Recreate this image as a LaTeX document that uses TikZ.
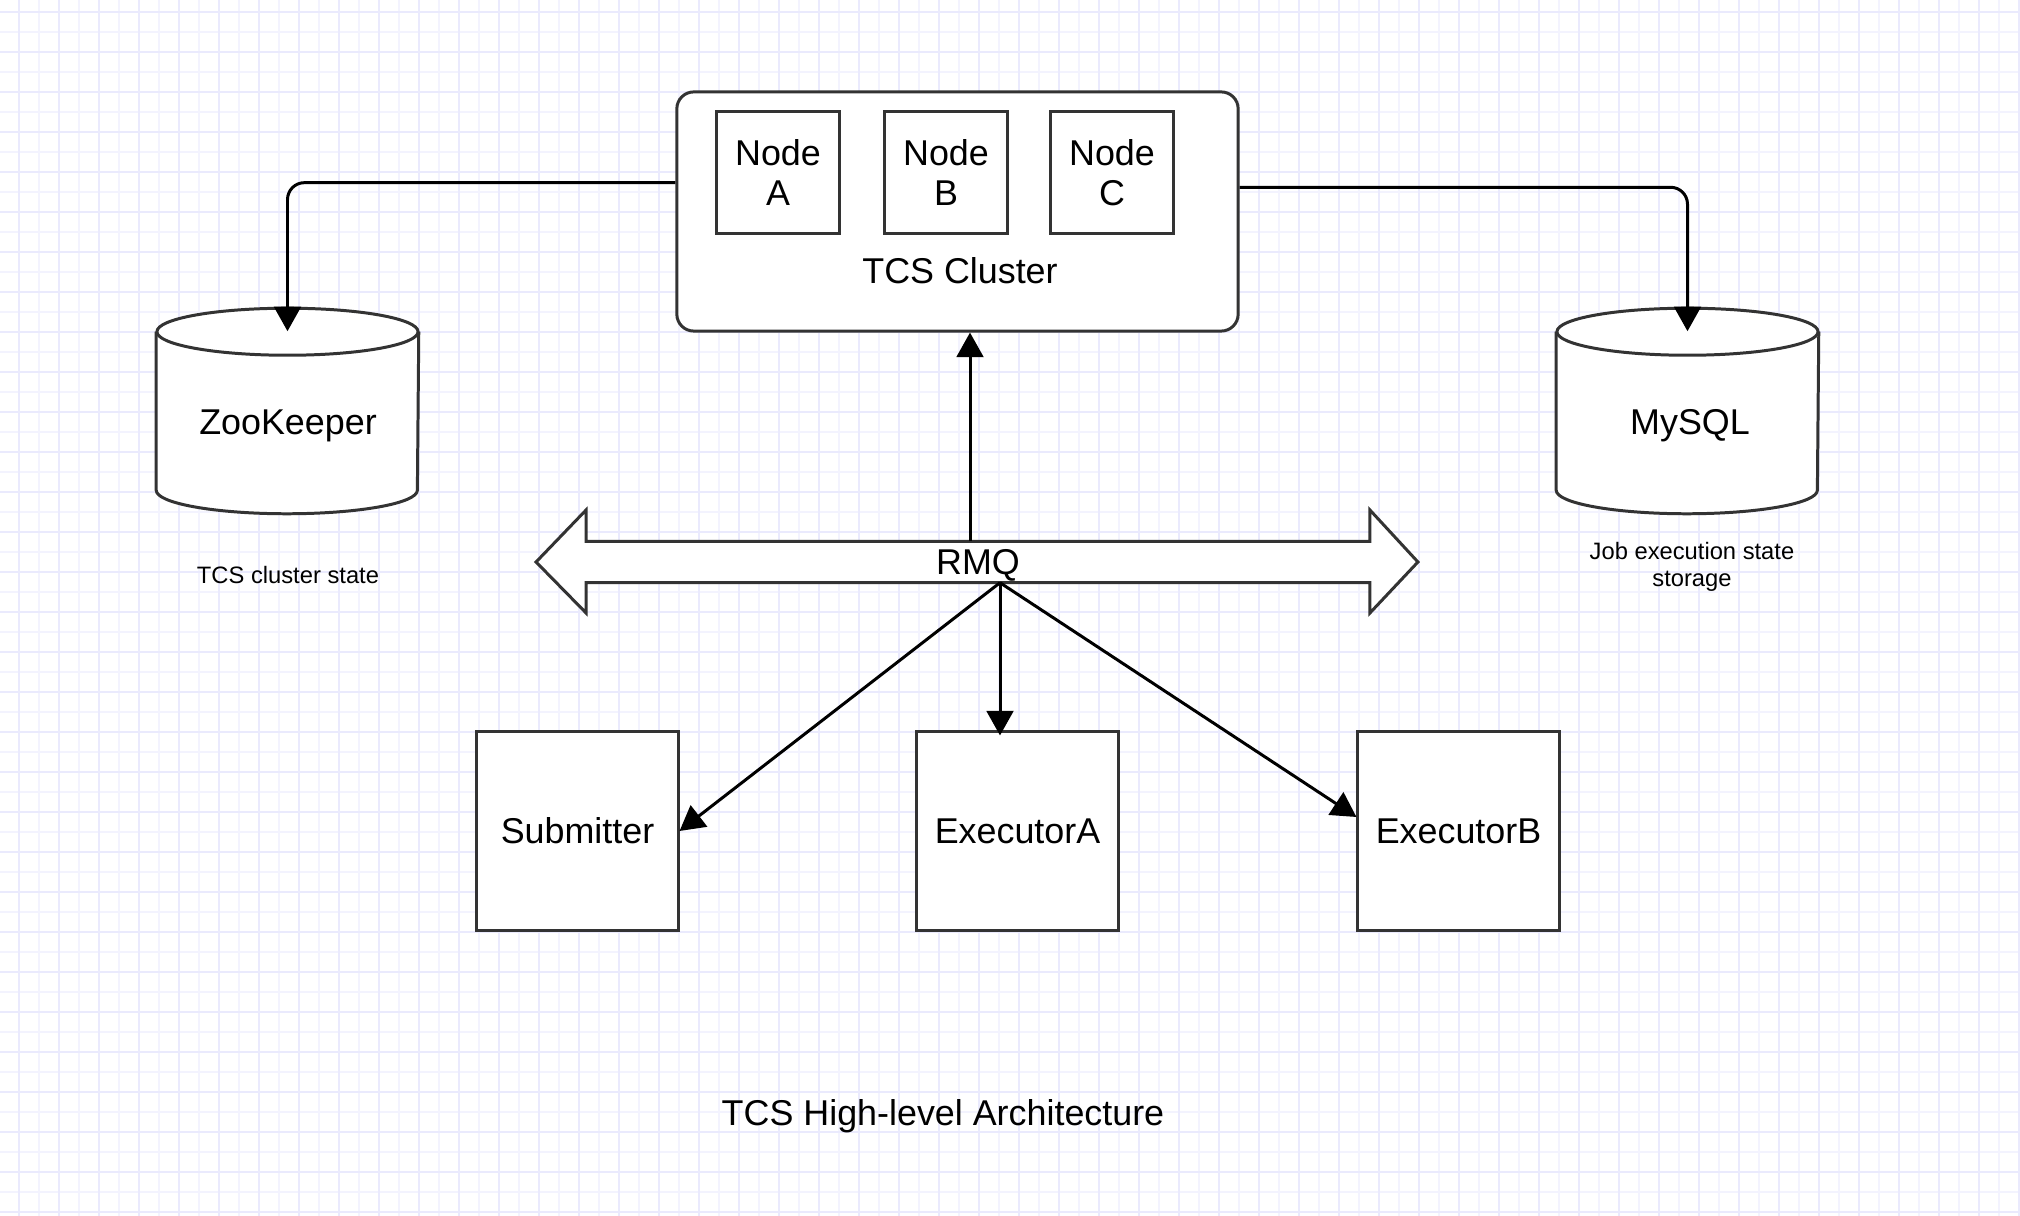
\documentclass[tikz,border=0pt]{standalone}
\usepackage{fontspec}
\setmainfont{Liberation Sans}
\usetikzlibrary{arrows.meta,calc}
\definecolor{boxgray}{HTML}{333333}
\definecolor{gridmajor}{HTML}{EAEAFD}
\definecolor{gridminor}{HTML}{F3F3FE}
\pgfdeclarelayer{gridlayer}
\pgfdeclarelayer{back}
\pgfsetlayers{gridlayer,back,main}
\begin{document}
\begin{tikzpicture}[x=0.01cm,y=-0.01cm,
  box/.style={draw=boxgray,line width=0.85pt,fill=white,inner sep=0pt,align=center,
    font=\fontsize{10.2pt}{11.34pt}\selectfont},
  lbl/.style={inner sep=0pt,text height=7.3pt,text depth=0pt,
    font=\fontsize{10.2pt}{11.34pt}\selectfont},
  small/.style={inner sep=0pt,text height=4.85pt,text depth=0pt,
    font=\fontsize{6.75pt}{7.9pt}\selectfont},
  smallml/.style={inner sep=0pt,align=center,font=\fontsize{6.75pt}{7.75pt}\selectfont},
  conn/.style={draw=black,line width=0.85pt,-{Triangle[length=7pt,width=7.6pt]}},
  shapeline/.style={draw=boxgray,line width=0.85pt,fill=white},
]
\useasboundingbox (0,0) rectangle (2020,1216);
\begin{pgfonlayer}{gridlayer}
  \fill[white] (0,0) rectangle (2020,1216);
  \foreach \x in {39,79,...,2020} \draw[gridminor,line width=0.5pt] (\x,0) -- (\x,1216);
  \foreach \y in {32,72,...,1216} \draw[gridminor,line width=0.5pt] (0,\y) -- (2020,\y);
  \foreach \x in {19,59,...,2020} \draw[gridmajor,line width=0.6pt] (\x,0) -- (\x,1216);
  \foreach \y in {12,52,...,1216} \draw[gridmajor,line width=0.6pt] (0,\y) -- (2020,\y);
\end{pgfonlayer}

% TCS cluster
\node[box,rounded corners=4.8pt,minimum width=5.61cm,minimum height=2.39cm] (cluster) at (957.5,211.5) {};
\node[box,minimum width=1.22cm,minimum height=1.21cm] (na) at (778,172.5) {Node\\A};
\node[box,minimum width=1.22cm,minimum height=1.21cm] (nb) at (946,172.5) {Node\\B};
\node[box,minimum width=1.22cm,minimum height=1.21cm] (nc) at (1112,172.5) {Node\\C};
\node[lbl] (clusterlbl) at (960,271) {TCS Cluster};

% cylinders
\node[inner sep=0pt,minimum width=2.61cm,minimum height=2.04cm] (zk) at (287.5,411) {};
\node[inner sep=0pt,minimum width=2.61cm,minimum height=2.04cm] (my) at (1687.5,411) {};
\begin{pgfonlayer}{back}
  \foreach \c in {zk,my} {
    \path[fill=white] ($(\c.north west)+(0,23.5)$) rectangle ($(\c.south east)+(0,-23.5)$);
    \draw[shapeline] ($(\c.north west)+(0,23.5)$) -- ($(\c.south west)+(0,-23.5)$)
      arc[start angle=180,end angle=360,x radius=1.305cm,y radius=0.235cm]
      -- ($(\c.north east)+(0,23.5)$);
    \draw[shapeline] ($(\c.north)+(0,23.5)$) ellipse[x radius=1.305cm,y radius=0.235cm];
  }
\end{pgfonlayer}
\node[lbl] (zklbl) at (288,422) {ZooKeeper};
\node[lbl] (mylbl) at (1690,422) {MySQL};
\node[small] (zknote) at (288,575) {TCS cluster state};
\node[smallml] (mynote) at (1692,567) {Job execution state\\storage};

% RMQ bus
\node[lbl,minimum width=7.82cm,minimum height=0.40cm] (rmq) at (978,562) {RMQ};
\begin{pgfonlayer}{back}
  \draw[shapeline,line join=miter] ($(rmq.west)+(-50,0)$) -- ($(rmq.west)+(0,-52)$) -- (rmq.north west)
    -- (rmq.north east) -- ($(rmq.east)+(0,-52)$) -- ($(rmq.east)+(48,0)$)
    -- ($(rmq.east)+(0,51)$) -- (rmq.south east) -- (rmq.south west)
    -- ($(rmq.west)+(0,51)$) -- cycle;
\end{pgfonlayer}

% clients
\node[box,minimum width=2.01cm,minimum height=1.98cm] (sub) at (577.5,831) {Submitter};
\node[box,minimum width=2.01cm,minimum height=1.98cm] (exa) at (1017.5,831) {ExecutorA};
\node[box,minimum width=2.01cm,minimum height=1.98cm] (exb) at (1458.5,831) {ExecutorB};

\node[lbl] (title) at (943,1113) {TCS High-level Architecture};

% connectors
\coordinate (clL) at ($(cluster.north west)!0.381!(cluster.south west)$);
\coordinate (clR) at ($(cluster.north east)!0.40!(cluster.south east)$);
\draw[conn,rounded corners=4.8pt] (clL) -| ($(zk.north)+(0,23)$);
\draw[conn,rounded corners=4.8pt] (clR) -| ($(my.north)+(0,23)$);
\coordinate (rmqU) at ($(rmq.north)+(-8,0)$);
\coordinate (rmqD) at ($(rmq.south)+(22,0)$);
\draw[conn] (rmqU) -- (rmqU |- cluster.south);
\draw[conn] (rmqD) -- (sub.east);
\draw[conn] (rmqD) -- ($(rmqD |- exa.north)+(0,5)$);
\draw[conn] (rmqD) -- ($(exb.west)+(0,-14)$);
\end{tikzpicture}
\end{document}
